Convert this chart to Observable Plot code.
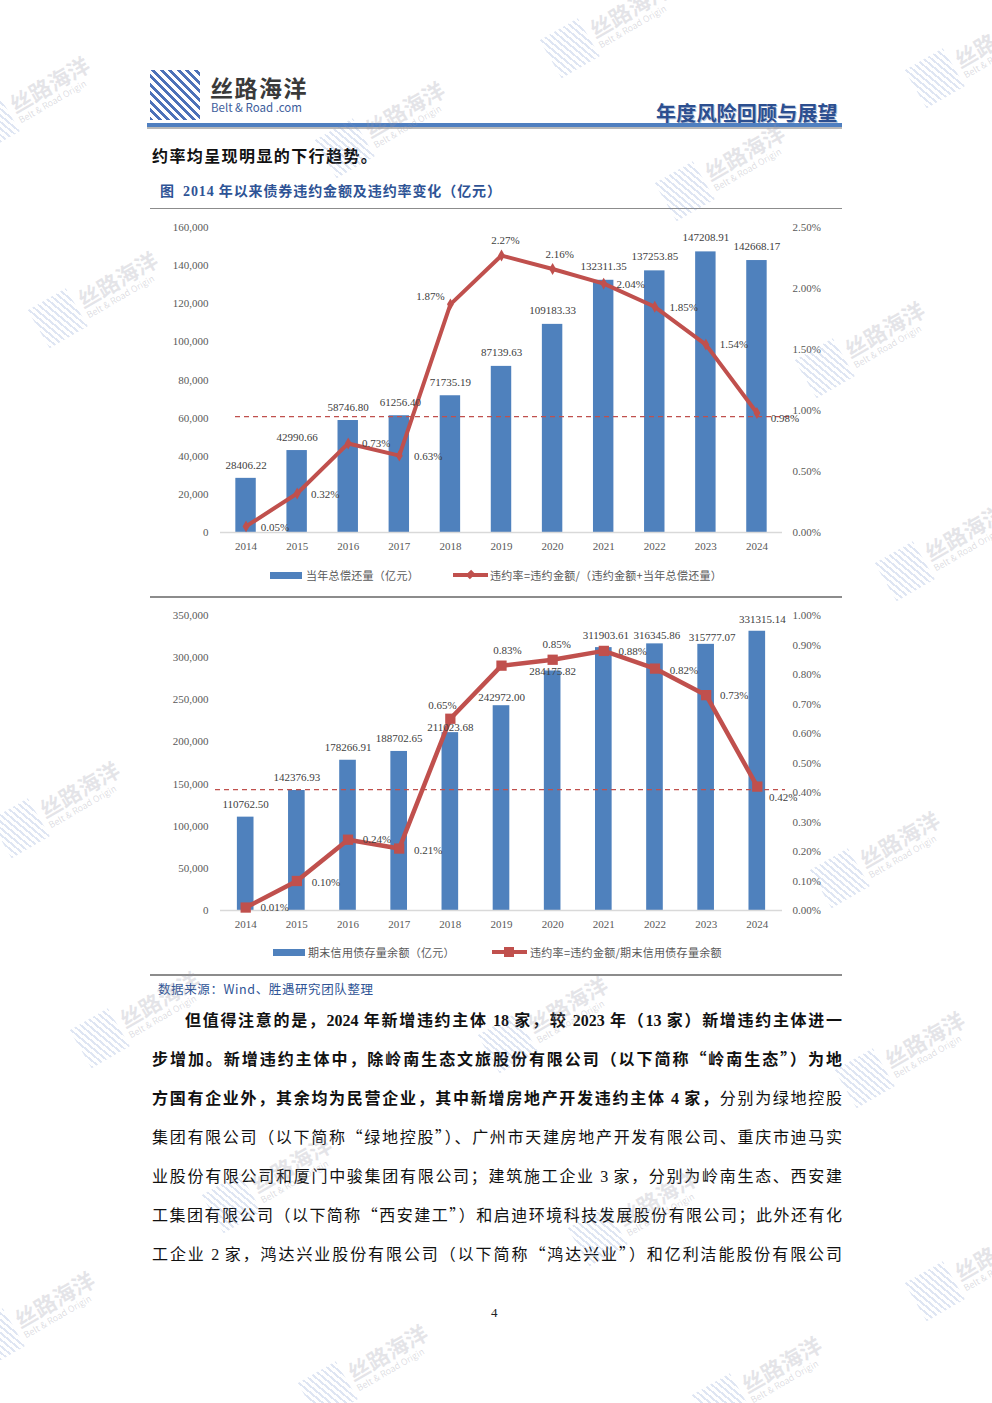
<!DOCTYPE html>
<html><head><meta charset="utf-8">
<script src="https://cdn.jsdelivr.net/npm/d3@7"></script>
<script src="https://cdn.jsdelivr.net/npm/@observablehq/plot@0.6"></script>
<style>
html,body{margin:0;padding:0;background:#fff;}
body{width:992px;height:1403px;position:relative;overflow:hidden;font-family:"Noto Sans CJK SC",sans-serif;}
.a{position:absolute;white-space:nowrap;}
.n{font-family:"Liberation Serif",serif;}
.logo{left:150px;top:70px;width:50px;height:50px;background:repeating-linear-gradient(45deg,#4d72b8 0 2.6px,transparent 2.6px 6px);}
.wm{position:absolute;transform:translate(-50%,-50%) rotate(-30deg);display:flex;align-items:center;gap:5px;pointer-events:none;z-index:5;white-space:nowrap;}
.wmi{width:44px;height:44px;flex:none;background:repeating-linear-gradient(70deg,rgba(110,140,200,.22) 0 2px,transparent 2px 5px);}
.wm1{font-size:22px;font-weight:700;color:rgba(150,150,165,.25);line-height:24px;}
.wm2{font-size:9px;color:rgba(150,150,165,.32);line-height:11px;}
.para{position:absolute;left:152px;width:690px;height:24px;line-height:24px;font-size:16px;color:#111;text-align:justify;text-align-last:justify;white-space:nowrap;}
.b{font-weight:700;}
.leg{position:absolute;font-size:11px;color:#595959;white-space:nowrap;line-height:14px;letter-spacing:0.3px;}
.hr{position:absolute;left:150px;width:692px;height:1.5px;background:#8c8c8c;}
</style></head><body>
<script>
// ===== data =====
const years = ["2014","2015","2016","2017","2018","2019","2020","2021","2022","2023","2024"];
const repayment = [28406.22,42990.66,58746.80,61256.40,71735.19,87139.63,109183.33,132311.35,137253.85,147208.91,142668.17];
const rateRepay = [0.05,0.32,0.73,0.63,1.87,2.27,2.16,2.04,1.85,1.54,0.98];
const balance = [110762.50,142376.93,178266.91,188702.65,211023.68,242972.00,284175.82,311903.61,316345.86,315777.07,331315.14];
const rateBalance = [0.01,0.10,0.24,0.21,0.65,0.83,0.85,0.88,0.82,0.73,0.42];
const avgRate1 = 0.95;
const avgRate2 = 0.41;
const leftTicks1 = [0,20000,40000,60000,80000,100000,120000,140000,160000];
const rightTicks1 = [0,0.5,1.0,1.5,2.0,2.5];
const leftTicks2 = [0,50000,100000,150000,200000,250000,300000,350000];
const rightTicks2 = [0,0.1,0.2,0.3,0.4,0.5,0.6,0.7,0.8,0.9,1.0];
const legend1 = ["当年总偿还量（亿元）","违约率=违约金额/（违约金额+当年总偿还量）"];
const legend2 = ["期末信用债存量余额（亿元）","违约率=违约金额/期末信用债存量余额"];

// ===== page helpers =====
function el(html, cls, style){const d=document.createElement("div");d.className=cls;d.innerHTML=html;Object.assign(d.style,style||{});document.body.appendChild(d);return d;}
const num = s => s.replace(/(\d+)/g,'<span class="n">$1</span>');

// header
el("","a logo");
el("丝路海洋","a",{left:"210px",top:"75px",fontSize:"23px",fontWeight:"700",color:"#3a3a3a",letterSpacing:"1.5px",lineHeight:"24px"});
el("Belt &amp; Road .com","a",{left:"211px",top:"101px",fontSize:"11.5px",color:"#3d5d9c",lineHeight:"13px"});
el("年度风险回顾与展望","a",{left:"656px",top:"101px",fontSize:"20px",fontWeight:"700",color:"#2c4f90",lineHeight:"24px",letterSpacing:"0.2px",textShadow:"1px 1px 0 #b5bfd6"});
el("","a",{left:"147px",top:"123px",width:"695px",height:"4px",background:"#4f7fc0"});
el("","a",{left:"147px",top:"127px",width:"695px",height:"2px",background:"#b8b8b8"});
el("约率均呈现明显的下行趋势。","a",{left:"152px",top:"144px",fontSize:"16px",fontWeight:"700",color:"#111",letterSpacing:"1.4px",lineHeight:"22px"});
el(num("图&nbsp; 2014 年以来债券违约金额及违约率变化（亿元）"),"a",{left:"160px",top:"180px",fontSize:"14px",color:"#2e5395",fontWeight:"700",lineHeight:"20px",letterSpacing:"0.9px"});
el("","hr",{top:"207.5px"});
el("","hr",{top:"596px"});
el("","hr",{top:"974px"});
el(num("数据来源：Wind、胜遇研究团队整理"),"a",{left:"158px",top:"980px",fontSize:"12.5px",color:"#2e5395",lineHeight:"17px",letterSpacing:"0.6px"});

// paragraph
const lines = [
  ['b','但值得注意的是，2024 年新增违约主体 18 家，较 2023 年（13 家）新增违约主体进一'],
  ['b','步增加。新增违约主体中，除岭南生态文旅股份有限公司（以下简称“岭南生态”）为地'],
  ['m','<span class="b">方国有企业外，其余均为民营企业，其中新增房地产开发违约主体 4 家，</span>分别为绿地控股'],
  ['', '集团有限公司（以下简称“绿地控股”）、广州市天建房地产开发有限公司、重庆市迪马实'],
  ['', '业股份有限公司和厦门中骏集团有限公司；建筑施工企业 3 家，分别为岭南生态、西安建'],
  ['', '工集团有限公司（以下简称“西安建工”）和启迪环境科技发展股份有限公司；此外还有化'],
  ['', '工企业 2 家，鸿达兴业股份有限公司（以下简称“鸿达兴业”）和亿利洁能股份有限公司']
];
lines.forEach((l,i)=>{
  const d = el(num(l[1]),"para"+(l[0]==='b'?' b':''),{top:(1007+39*i)+"px"});
  if(i===0){d.style.left="185px";d.style.width="657px";}
});
el('<span class="n">4</span>',"a",{left:"491px",top:"1304px",fontSize:"13px",color:"#222",lineHeight:"16px"});

// ===== charts =====
function chart(o){
  const k = o.yMax/o.rMax;
  const data = years.map((y,i)=>({year:y,v:o.vals[i],rate:o.rates[i],rk:o.rates[i]*k}));
  const marks = [
    Plot.barY(data,{x:"year",y:"v",fill:"#4f81bd"}),
    Plot.ruleY([0],{stroke:"#d9d9d9",strokeWidth:1.6}),
    Plot.ruleY([o.avg*k],{stroke:"#c0504d",strokeWidth:1.3,strokeDasharray:"5,4",insetLeft:o.dashInset[0],insetRight:o.dashInset[1]}),
    Plot.line(data,{x:"year",y:"rk",stroke:"#c0504d",strokeWidth:o.lw}),
    Plot.dot(data,{x:"year",y:"rk",symbol:o.symbol,r:o.r,fill:"#c0504d",stroke:"none"}),
    Plot.axisY({anchor:"left",ticks:o.leftTicks,tickSize:0,tickPadding:12,tickFormat:d3.format(","),label:null}),
    Plot.axisY({anchor:"right",ticks:o.rightTicks.map(t=>t*k),tickSize:0,tickPadding:10,tickFormat:t=>(t/k).toFixed(2)+"%",label:null}),
    Plot.axisX({tickSize:0,tickPadding:10,label:null})
  ];
  data.forEach((d,i)=>{
    marks.push(Plot.text([d],{x:"year",y:"v",text:d=>d.v.toFixed(2),dx:o.barOff[i][0],dy:o.barOff[i][1],fill:"#404040"}));
    marks.push(Plot.text([d],{x:"year",y:"rk",text:d=>d.rate.toFixed(2)+"%",dx:o.rateOff[i][0],dy:o.rateOff[i][1],fill:"#404040"}));
  });
  const svg = Plot.plot({
    width:700,height:340,marginLeft:70,marginRight:68,marginTop:o.mt,marginBottom:o.mb,
    x:{type:"band",domain:years,paddingInner:o.pi,paddingOuter:o.po,round:false},
    y:{domain:[0,o.yMax]},
    style:{fontFamily:"Liberation Serif, serif",fontSize:"11px",color:"#595959",background:"transparent",overflow:"visible"},
    marks
  });
  svg.style.position="absolute";svg.style.left="150px";svg.style.top=o.top+"px";
  document.body.appendChild(svg);
}

chart({vals:repayment,rates:rateRepay,yMax:160000,rMax:2.5,avg:avgRate1,leftTicks:leftTicks1,rightTicks:rightTicks1,
  symbol:"diamond",r:3.6,lw:4,mt:12,mb:23,top:215,pi:0.6,po:0.3,dashInset:[15,-12],
  barOff:[[0,-13],[0,-13],[0,-13],[1,-13],[0,-13],[0,-14],[0,-14],[0,-14],[0,-14],[0,-14],[0,-14]],
  rateOff:[[29,1],[28,1],[28,0],[29,1],[-20,-8],[4,-15],[7,-15],[27,1],[29,1],[28,0],[28,6]]});

chart({vals:balance,rates:rateBalance,yMax:350000,rMax:1.0,avg:avgRate2,leftTicks:leftTicks2,rightTicks:rightTicks2,
  symbol:"square",r:5.8,lw:4.5,mt:15,mb:30,top:600,pi:0.675,po:0.33,dashInset:[-5,-3],
  barOff:[[0,-13],[0,-13],[0,-13],[0,-13],[0,-5],[0,-8],[0,0],[2,-12],[2,-8],[6,-7],[5,-12]],
  rateOff:[[29,0],[29,1],[29,0],[29,2],[-8,-13],[6,-15],[4,-15],[29,1],[29,2],[28,0],[26,11]]});

// legends
function legend(top,bx,tx,lx,tx2,labels,marker){
  el("","a",{left:bx+"px",top:(top-3.5)+"px",width:"32px",height:"7px",background:"#4f81bd"});
  el(labels[0],"leg",{left:tx+"px",top:(top-7)+"px"});
  el("","a",{left:lx+"px",top:(top-2)+"px",width:"35px",height:"4px",background:"#c0504d"});
  if(marker==="diamond") el("","a",{left:(lx+14)+"px",top:(top-4)+"px",width:"7px",height:"7px",background:"#c0504d",transform:"rotate(45deg) scale(0.85,1.1)"});
  else el("","a",{left:(lx+12)+"px",top:(top-5)+"px",width:"10px",height:"10px",background:"#c0504d"});
  el(labels[1],"leg",{left:tx2+"px",top:(top-7)+"px"});
}
legend(575,270,306,453,490,legend1,"diamond");
legend(952,273,308,492,530,legend2,"square");

// watermarks
const wms=[[30,100],[610,25],[975,55],[385,125],[725,168],[98,295],[865,345],[945,548],[60,805],[880,855],[140,1015],[548,1020],[905,1055],[272,1180],[638,1213],[975,1268],[35,1315],[368,1368],[762,1380]];
wms.forEach(([x,y])=>{
  el('<div class="wmi"></div><div><div class="wm1">丝路海洋</div><div class="wm2">Belt &amp; Road Origin</div></div>',"wm",{left:x+"px",top:y+"px"});
});
</script>
</body></html>
